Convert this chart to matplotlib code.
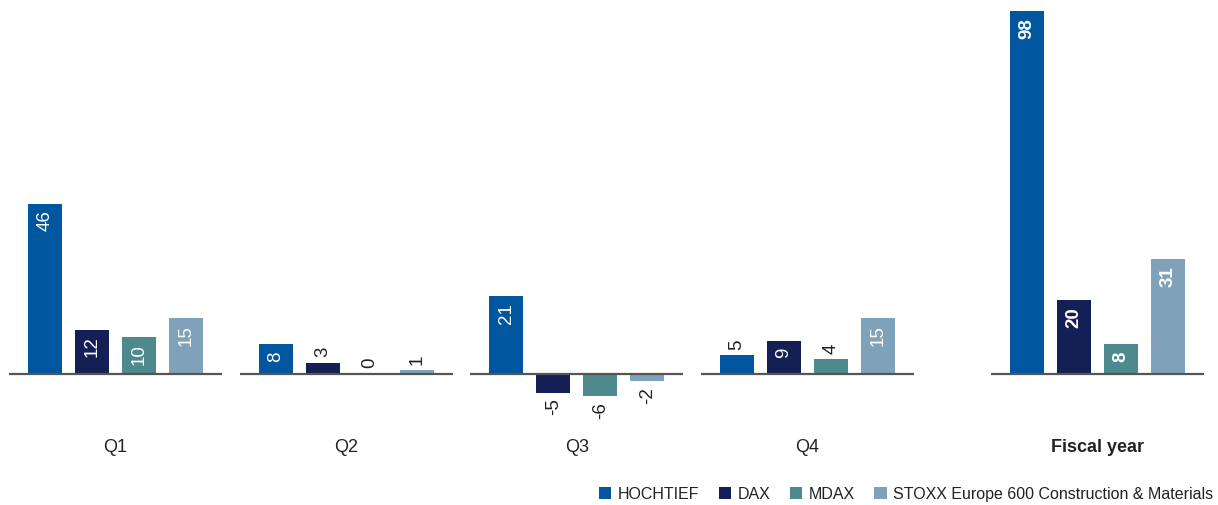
import matplotlib.pyplot as plt
from matplotlib.patches import Patch

# ----------------------------------------------------------------------
# data (performance in %)
# ----------------------------------------------------------------------
periods = ['Q1', 'Q2', 'Q3', 'Q4', 'Fiscal year']
series = ['HOCHTIEF', 'DAX', 'MDAX', 'STOXX Europe 600 Construction & Materials']
hochtief = [46, 8, 21, 5, 98]
dax = [12, 3, -5, 9, 20]
mdax = [10, 0, -6, 4, 8]
stoxx = [15, 1, -2, 15, 31]

colors = ['#0057a0', '#141f55', '#4e898d', '#7fa1ba']
values = [hochtief, dax, mdax, stoxx]

# group layout
group_x = [0, 1, 2, 3, 4.257]
bar_w = 0.147
pitch = 0.204
half_base = 0.462
inside_min = 8   # values >= this get the label inside the bar

plt.rcParams['font.family'] = ['Liberation Sans', 'DejaVu Sans']
fig = plt.figure(figsize=(12.18, 5.05), dpi=100)
ax = fig.add_axes([0, 0, 1, 1])
ax.set_xlim(-0.5007, 4.78)
ax.set_ylim(-35.37, 100.97)
ax.axis('off')

for i, p in enumerate(periods):
    weight = 'bold' if p == 'Fiscal year' else 'normal'
    cx = group_x[i]
    ax.hlines(0, cx - half_base, cx + half_base, color='#555555', lw=1.6, zorder=3)
    for k in range(4):
        v = values[k][i]
        x = cx + (k - 1.5) * pitch
        ax.bar(x, v, width=bar_w, color=colors[k], zorder=2)
        if v >= inside_min:
            ax.annotate(str(v), (x, v), xytext=(0, -5), textcoords='offset points',
                        ha='center', va='top', rotation=90, color='white',
                        fontsize=13.5, fontweight=weight)
        elif v >= 0:
            ax.annotate(str(v), (x, v), xytext=(0, 4), textcoords='offset points',
                        ha='center', va='bottom', rotation=90, color='#222222',
                        fontsize=13.5, fontweight=weight)
        else:
            ax.annotate(str(v), (x, v), xytext=(0, -4), textcoords='offset points',
                        ha='center', va='top', rotation=90, color='#222222',
                        fontsize=13.5, fontweight=weight)
    ax.text(cx, -19.8, p, ha='center', va='center', fontsize=13, color='#222222',
            fontweight=weight)

handles = [Patch(facecolor=c, edgecolor='none') for c in colors]
fig.legend(handles, series, loc='lower right', bbox_to_anchor=(1.008, -0.022), ncol=4,
           frameon=False, fontsize=11.5, handlelength=0.8, handleheight=0.8,
           handletextpad=0.4, columnspacing=1.2, labelcolor='#222222')

fig.savefig('out.png', dpi=100)
